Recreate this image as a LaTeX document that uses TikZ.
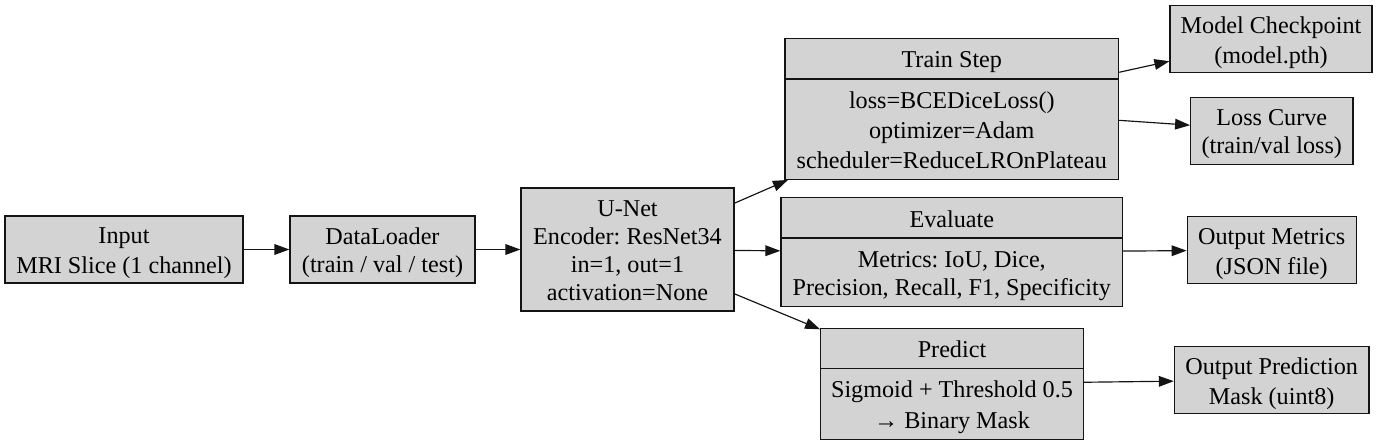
\documentclass[tikz,border=0pt]{standalone}
\usepackage{fontspec}
\setmainfont{Liberation Serif}
\usepackage{xcolor}
\definecolor{boxgray}{RGB}{211,211,211}
\definecolor{edgeblack}{RGB}{20,20,20}
\usetikzlibrary{shapes.multipart,arrows.meta,positioning}
\frenchspacing
% one text line of the graph: baseline 14pt below its top, 16.8pt high
\newcommand{\lnstrut}{\rule[-2.8pt]{0pt}{16.8pt}}

\begin{document}
\begin{tikzpicture}[x=0.6pt,y=-0.6pt,font=\fontsize{14.5}{16.8}\selectfont,
  >={Triangle[length=9pt,width=6.4pt]},
  blk/.style={draw=edgeblack,fill=boxgray,line width=0.7pt,align=flush center,
    minimum height=40.2pt,inner sep=0pt},
  rec/.style={draw=edgeblack,fill=boxgray,line width=0.7pt,align=flush center,
    rectangle split,rectangle split parts=2,inner xsep=0pt,inner ysep=3.3pt},
  flow/.style={->,draw=edgeblack,line width=0.7pt}]
\useasboundingbox (0,0) rectangle (1378,439);
% main chain
\node[blk,minimum width=142.8pt] (input)  at (124,249.5)   {\lnstrut Input\\\lnstrut MRI Slice (1 channel)};
\node[blk,minimum width=111pt]   (loader) at (382.5,249.5) {\lnstrut DataLoader\\\lnstrut (train / val / test)};
\node[blk,minimum width=127.8pt,minimum height=73.8pt] (unet) at (627.5,249.5)
  {\lnstrut U-Net\\\lnstrut Encoder: ResNet34\\\lnstrut in=1, out=1\\\lnstrut activation=None};
% record nodes
\node[rec,text width=200.2pt,anchor=north] (train) at (951.8,37.7)
  {\lnstrut Train Step\nodepart{two}\lnstrut loss=BCEDiceLoss()\\\lnstrut optimizer=Adam\\\lnstrut scheduler=ReduceLROnPlateau};
\node[rec,text width=205pt,anchor=north] (eval) at (951.8,197.3)
  {\lnstrut Evaluate\nodepart{two}\lnstrut Metrics: IoU, Dice,\\\lnstrut Precision, Recall, F1, Specificity};
\node[rec,text width=157.6pt,anchor=north] (pred) at (952,327.7)
  {\lnstrut Predict\nodepart{two}\lnstrut Sigmoid + Threshold 0.5\\\lnstrut → Binary Mask};
% outputs
\node[blk,minimum width=121.2pt] (ckpt)    at (1271,39)      {\lnstrut Model Checkpoint\\\lnstrut (model.pth)};
\node[blk,minimum width=97.4pt]  (losscrv) at (1271.8,130.8) {\lnstrut Loss Curve\\\lnstrut (train/val loss)};
\node[blk,minimum width=101.4pt] (metrics) at (1271.7,250)   {\lnstrut Output Metrics\\\lnstrut (JSON file)};
\node[blk,minimum width=116.8pt] (mask)    at (1271.7,380)   {\lnstrut Output Prediction\\\lnstrut Mask (uint8)};
% edges
\draw[flow] (input) -- (loader);
\draw[flow] (loader) -- (unet);
\draw[flow] (unet) -- (train);
\draw[flow] (unet) -- (eval);
\draw[flow] (unet) -- (pred);
\draw[flow] (train) -- (ckpt);
\draw[flow] (train) -- (losscrv);
\draw[flow] (eval) -- (metrics);
\draw[flow] (pred) -- (mask);
\end{tikzpicture}
\end{document}
